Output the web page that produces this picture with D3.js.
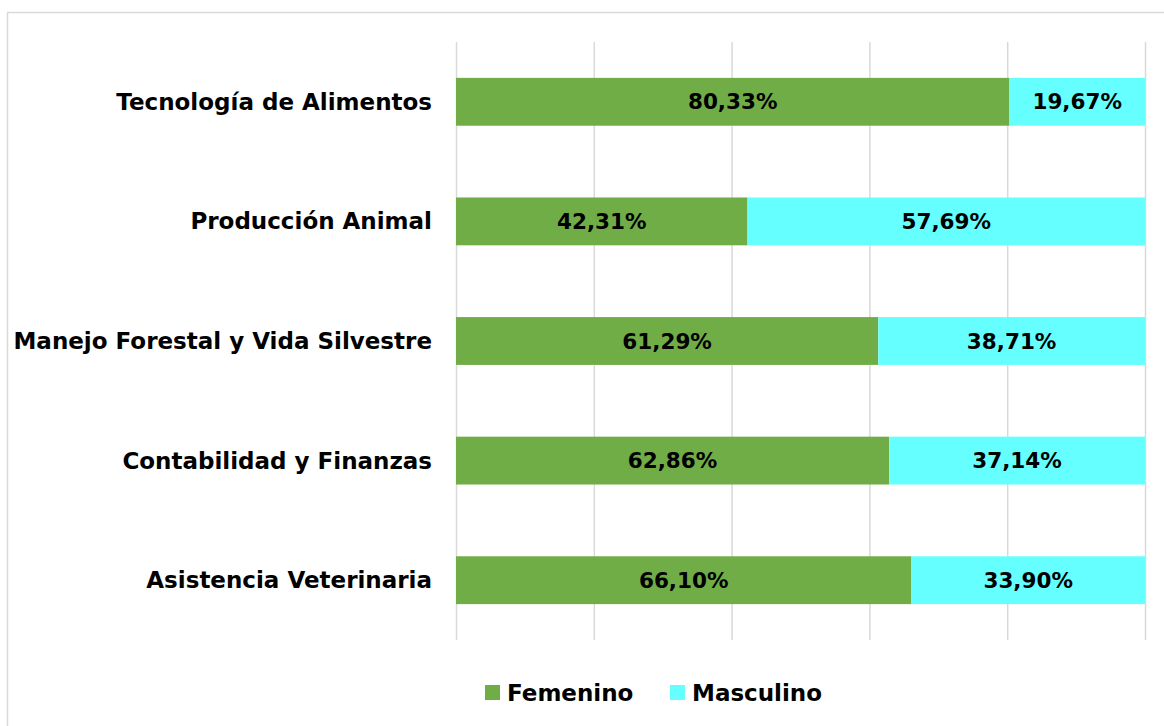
<!DOCTYPE html>
<html>
<head>
<meta charset="utf-8">
<script src="https://cdn.jsdelivr.net/npm/d3@7"></script>
<style>
  body { margin: 0; background: #fff; }
  svg { display: block; font-family: "DejaVu Sans", sans-serif; font-weight: bold; }
</style>
</head>
<body>
<svg id="chart" width="1164" height="726"></svg>
<script>
const categories = [
  "Tecnología de Alimentos",
  "Producción Animal",
  "Manejo Forestal y Vida Silvestre",
  "Contabilidad y Finanzas",
  "Asistencia Veterinaria"
];
const femenino = [80.33, 42.31, 61.29, 62.86, 66.10];
const masculino = [19.67, 57.69, 38.71, 37.14, 33.90];
const seriesNames = ["Femenino", "Masculino"];
const seriesColors = ["#70AD47", "#66FFFF"];
const xTicks = [0, 20, 40, 60, 80, 100];

const svg = d3.select("#chart");
const plotLeft = 456, plotRight = 1145, plotTop = 42, plotBottom = 640;

// chart frame (cropped on right/bottom like the source)
svg.append("rect")
  .attr("x", 7.5).attr("y", 12.5)
  .attr("width", 1200).attr("height", 800)
  .attr("fill", "#fff").attr("stroke", "#d9d9d9").attr("stroke-width", 1.5);

const x = d3.scaleLinear().domain([0, 100]).range([plotLeft, plotRight]);
const y = d3.scaleBand().domain(categories).range([plotTop, plotBottom]).paddingInner(0.6).paddingOuter(0.3);

svg.append("g").selectAll("line")
  .data(xTicks)
  .join("line")
  .attr("x1", d => x(d) + 0.5).attr("x2", d => x(d) + 0.5)
  .attr("y1", plotTop).attr("y2", plotBottom)
  .attr("stroke", "#d9d9d9").attr("stroke-width", 1.5);

const rows = categories.map((c, i) => ({ cat: c, vals: [femenino[i], masculino[i]] }));
const segs = [];
rows.forEach(r => {
  let acc = 0;
  r.vals.forEach((v, k) => {
    segs.push({ cat: r.cat, x0: acc, x1: acc + v, v, k });
    acc += v;
  });
});

svg.append("g").selectAll("rect")
  .data(segs)
  .join("rect")
  .attr("x", d => x(d.x0))
  .attr("width", d => x(d.x1) - x(d.x0))
  .attr("y", d => y(d.cat))
  .attr("height", y.bandwidth())
  .attr("fill", d => seriesColors[d.k]);

const fmt = v => v.toFixed(2).replace(".", ",") + "%";
svg.append("g").selectAll("text")
  .data(segs)
  .join("text")
  .attr("x", d => (x(d.x0) + x(d.x1)) / 2)
  .attr("y", d => y(d.cat) + y.bandwidth() / 2)
  .attr("text-anchor", "middle")
  .attr("dominant-baseline", "central")
  .attr("font-size", 21.5)
  .attr("fill", "#000")
  .text(d => fmt(d.v));

svg.append("g").selectAll("text")
  .data(categories)
  .join("text")
  .attr("x", 432)
  .attr("y", d => y(d) + y.bandwidth() / 2)
  .attr("text-anchor", "end")
  .attr("dominant-baseline", "central")
  .attr("font-size", 23)
  .attr("fill", "#000")
  .text(d => d);

// legend
const legendX = [485, 670];
const legend = svg.append("g").selectAll("g")
  .data(seriesNames)
  .join("g")
  .attr("transform", (d, i) => `translate(${legendX[i]},685)`);
legend.append("rect").attr("width", 15).attr("height", 15).attr("fill", (d, i) => seriesColors[i]);
legend.append("text")
  .attr("x", 22).attr("y", 8)
  .attr("dominant-baseline", "central")
  .attr("font-size", 23)
  .text(d => d);
</script>
</body>
</html>
